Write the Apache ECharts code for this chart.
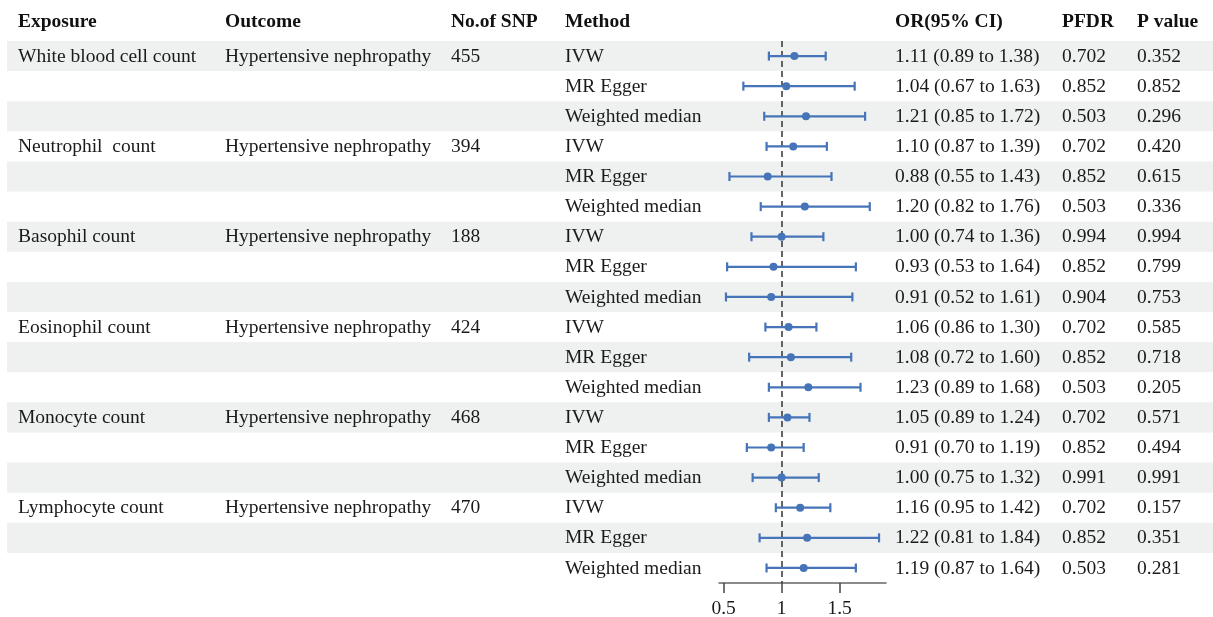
<!DOCTYPE html>
<html>
<head>
<meta charset="utf-8">
<script src="https://cdn.jsdelivr.net/npm/echarts@6/dist/echarts.min.js"></script>
<style>
  html, body { margin: 0; padding: 0; background: #fff; }
  #chart { width: 1213px; height: 617px; }
</style>
</head>
<body>
<div id="chart"></div>
<script>
// data
var exposures = ['White blood cell count', 'Neutrophil  count', 'Basophil count', 'Eosinophil count', 'Monocyte count', 'Lymphocyte count'];
var outcomes = ['Hypertensive nephropathy', 'Hypertensive nephropathy', 'Hypertensive nephropathy', 'Hypertensive nephropathy', 'Hypertensive nephropathy', 'Hypertensive nephropathy'];
var nSnp = ['455', '394', '188', '424', '468', '470'];
var methods = ['IVW', 'MR Egger', 'Weighted median'];
var orEst = [1.11, 1.04, 1.21, 1.10, 0.88, 1.20, 1.00, 0.93, 0.91, 1.06, 1.08, 1.23, 1.05, 0.91, 1.00, 1.16, 1.22, 1.19];
var orLow = [0.89, 0.67, 0.85, 0.87, 0.55, 0.82, 0.74, 0.53, 0.52, 0.86, 0.72, 0.89, 0.89, 0.70, 0.75, 0.95, 0.81, 0.87];
var orHigh = [1.38, 1.63, 1.72, 1.39, 1.43, 1.76, 1.36, 1.64, 1.61, 1.30, 1.60, 1.68, 1.24, 1.19, 1.32, 1.42, 1.84, 1.64];
var pfdr = ['0.702', '0.852', '0.503', '0.702', '0.852', '0.503', '0.994', '0.852', '0.904', '0.702', '0.852', '0.503', '0.702', '0.852', '0.991', '0.702', '0.852', '0.503'];
var pval = ['0.352', '0.852', '0.296', '0.420', '0.615', '0.336', '0.994', '0.799', '0.753', '0.585', '0.718', '0.205', '0.571', '0.494', '0.991', '0.157', '0.351', '0.281'];
var headers = ['Exposure', 'Outcome', 'No.of SNP', 'Method', 'OR(95% CI)', 'PFDR', 'P value'];
var xTicks = [0.5, 1, 1.5];

// layout
var colX = [18, 225, 451, 565, 895, 1062, 1137];
var FONT = '"Liberation Serif", "Times New Roman", serif';
var FS = 19.5;
var blue = '#4574b8';
var shade = '#eef1f0';

var nRows = orEst.length;
var rowCats = [];
var rowText = [];
for (var i = 0; i < nRows; i++) {
    rowCats.push(i);
    var g = Math.floor(i / 3), m = i % 3;
    rowText.push([
        m === 0 ? exposures[g] : '',
        m === 0 ? outcomes[g] : '',
        m === 0 ? nSnp[g] : '',
        methods[m],
        orEst[i].toFixed(2) + ' (' + orLow[i].toFixed(2) + ' to ' + orHigh[i].toFixed(2) + ')',
        pfdr[i],
        pval[i]
    ]);
}

var myChart = echarts.init(document.getElementById('chart'));

var option = {
    backgroundColor: '#fff',
    animation: false,
    grid: [
        { left: 7, right: 0, top: 41, height: 542, outerBoundsMode: 'none', containLabel: false },
        { left: 719, width: 167, top: 41, height: 542, outerBoundsMode: 'none', containLabel: false }
    ],
    xAxis: [
        { gridIndex: 0, type: 'value', min: 0, max: 1, show: false },
        {
            gridIndex: 1, type: 'value', min: 0.46, max: 1.9,
            splitLine: { show: false },
            axisLine: { show: true, lineStyle: { color: '#666', width: 1.5 } },
            axisTick: { show: true, customValues: xTicks, length: 10, lineStyle: { color: '#444', width: 1.5 } },
            axisLabel: {
                customValues: xTicks, margin: 16,
                color: '#1a1a1a', fontFamily: FONT, fontSize: FS,
                formatter: function(v) { return String(v); }
            }
        }
    ],
    yAxis: [
        { gridIndex: 0, type: 'category', data: rowCats, inverse: true, show: false },
        { gridIndex: 1, type: 'category', data: rowCats, inverse: true, show: false }
    ],
    graphic: headers.map(function(h, i) {
        return {
            type: 'text', x: colX[i], y: 22,
            style: { text: h, fill: '#111', font: 'bold ' + FS + 'px ' + FONT, verticalAlign: 'middle' }
        };
    }),
    series: [
        {
            // 隔行底色
            type: 'bar', xAxisIndex: 0, yAxisIndex: 0, silent: true,
            barWidth: '100%', z: 0,
            itemStyle: { color: shade },
            data: rowCats.map(function(r) { return r % 2 === 0 ? 1 : '-'; })
        },
        {
            // 表格文字
            type: 'custom', xAxisIndex: 0, yAxisIndex: 0, silent: true, z: 5,
            data: rowCats.map(function(r) { return [0, r]; }),
            renderItem: function(params, api) {
                var r = api.value(1);
                var y = api.coord([0, r])[1] + 0.5;
                return {
                    type: 'group',
                    children: colX.map(function(x, c) {
                        return {
                            type: 'text',
                            style: { x: x, y: y, text: rowText[r][c], fill: '#1a1a1a', font: FS + 'px ' + FONT, verticalAlign: 'middle' }
                        };
                    })
                };
            }
        },
        {
            // 置信区间
            type: 'custom', xAxisIndex: 1, yAxisIndex: 1, silent: true, z: 6,
            encode: { x: [0, 2, 3], y: 1 },
            data: rowCats.map(function(r) { return [orEst[r], r, orLow[r], orHigh[r]]; }),
            renderItem: function(params, api) {
                var r = api.value(1);
                var a = api.coord([api.value(2), r]);
                var b = api.coord([api.value(3), r]);
                var st = { stroke: blue, lineWidth: 2.2 };
                var cap = 4.5;
                return {
                    type: 'group',
                    children: [
                        { type: 'line', shape: { x1: a[0], y1: a[1], x2: b[0], y2: b[1] }, style: st },
                        { type: 'line', shape: { x1: a[0], y1: a[1] - cap, x2: a[0], y2: a[1] + cap }, style: st },
                        { type: 'line', shape: { x1: b[0], y1: b[1] - cap, x2: b[0], y2: b[1] + cap }, style: st }
                    ]
                };
            }
        },
        {
            type: 'scatter', xAxisIndex: 1, yAxisIndex: 1, silent: true, z: 7,
            symbolSize: 8,
            itemStyle: { color: blue, opacity: 1 },
            data: rowCats.map(function(r) { return [orEst[r], r]; }),
            markLine: {
                silent: true, symbol: 'none', label: { show: false },
                lineStyle: { color: '#333', type: [6, 4], width: 1.5 },
                data: [{ xAxis: 1 }]
            }
        }
    ]
};

myChart.setOption(option);
</script>
</body>
</html>
